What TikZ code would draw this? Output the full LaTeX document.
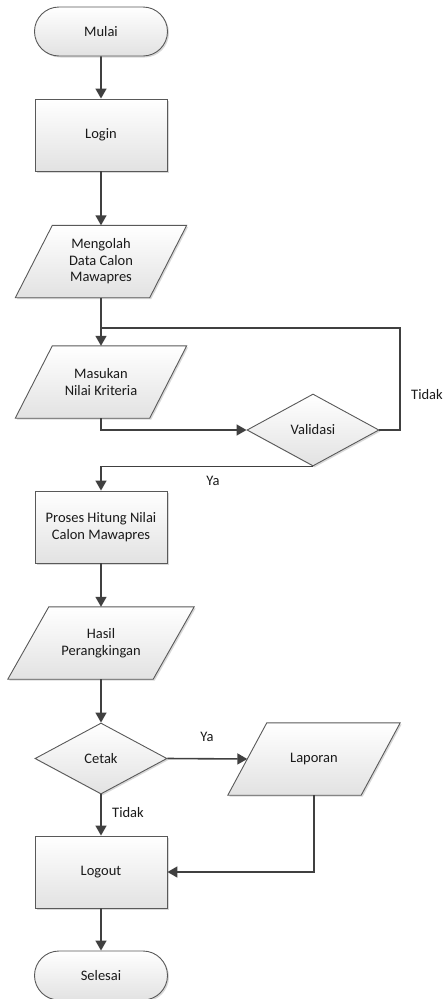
\documentclass[tikz,border=0pt]{standalone}
\usepackage{fontspec}
\setmainfont{Carlito}
\usetikzlibrary{shapes.geometric,shapes.misc,arrows.meta,shadows,backgrounds}
\definecolor{linec}{HTML}{404040}
\definecolor{edgec}{HTML}{595959}
\definecolor{fillb}{HTML}{E2E2E2}
\definecolor{txtc}{HTML}{1A1A1A}
\tikzset{
  shapebase/.style={draw=edgec, line width=0.9pt, top color=white, bottom color=fillb,
    drop shadow={shadow xshift=1.5pt, shadow yshift=-1.5pt, fill=black!30, opacity=0.5},
    text=txtc, font=\fontsize{14.5}{16.5}\selectfont, align=center, inner sep=0pt},
  term/.style={shapebase, rounded rectangle, minimum width=133pt, minimum height=49pt},
  procbox/.style={shapebase, rectangle, minimum width=132pt, minimum height=72pt},
  decbox/.style={shapebase, diamond, minimum width=132pt, minimum height=72pt},
  iobox/.style={draw=none, rectangle, minimum width=134pt, minimum height=72pt,
    text=txtc, font=\fontsize{14.5}{16.5}\selectfont, align=center, inner sep=0pt},
  ioshape/.style={draw=edgec, line width=0.9pt, top color=white, bottom color=fillb,
    drop shadow={shadow xshift=1.5pt, shadow yshift=-1.5pt, fill=black!30, opacity=0.5}},
  flow/.style={draw=linec, line width=1.6pt, -{Triangle[width=11pt,length=10pt]}},
  plain/.style={draw=linec, line width=1.6pt},
  lbl/.style={text=txtc, font=\fontsize{14.5}{16.5}\selectfont, inner sep=0pt}
}
\newcommand\ioshapeof[2]{\path[ioshape] ([xshift=#2pt]#1.north west) -- ([xshift=#2pt]#1.north east) -- ([xshift=-#2pt]#1.south east) -- ([xshift=-#2pt]#1.south west) -- cycle;}
\begin{document}
\begin{tikzpicture}[x=1pt,y=1pt]
\useasboundingbox (0,0) rectangle (443,-999);
\node[term] (mulai) at (101,-31.5) {Mulai};
\node[procbox] (login) at (101,-135) {Login};
\node[iobox] (mengolah) at (101,-261.5) {Mengolah\\Data Calon\\Mawapres};
\node[iobox] (masukan) at (101,-382) {Masukan\\Nilai Kriteria};
\node[decbox] (validasi) at (313,-430) {Validasi};
\node[procbox] (proses) at (101,-527) {Proses Hitung Nilai\\Calon Mawapres};
\node[iobox, minimum width=145pt] (hasil) at (101,-643) {Hasil\\Perangkingan};
\node[decbox, minimum height=71pt] (cetak) at (101,-758.5) {Cetak};
\node[iobox, minimum width=133pt] (laporan) at (314,-759) {Laporan};
\node[procbox] (logout) at (101,-872) {Logout};
\node[term] (selesai) at (101,-975.5) {Selesai};
\begin{scope}[on background layer]
\ioshapeof{mengolah}{18.5}
\ioshapeof{masukan}{18.5}
\ioshapeof{hasil}{20.5}
\ioshapeof{laporan}{19.5}
\end{scope}
\coordinate (loopR) at (400,-328);
\coordinate (junc) at (101,-328);
\draw[flow] (mulai) -- (login);
\draw[flow] (login) -- (mengolah);
\draw[flow] (mengolah) -- (masukan);
\draw[flow] (masukan.south) |- (validasi.west);
\draw[plain] (validasi.east) -| (loopR) -- (junc);
\draw[flow] (validasi.south) -| (proses.north);
\draw[flow] (proses) -- (hasil);
\draw[flow] (hasil) -- (cetak);
\draw[flow] (cetak.east) -- (laporan.west);
\draw[flow] (cetak.south) -- (logout.north);
\draw[flow] (laporan.south) |- (logout.east);
\draw[flow] (logout) -- (selesai);
\node[lbl] (tidak1) at (427,-395) {Tidak};
\node[lbl] (ya1) at (213,-481) {Ya};
\node[lbl] (ya2) at (207,-737) {Ya};
\node[lbl] (tidak2) at (128,-813) {Tidak};
\end{tikzpicture}
\end{document}
